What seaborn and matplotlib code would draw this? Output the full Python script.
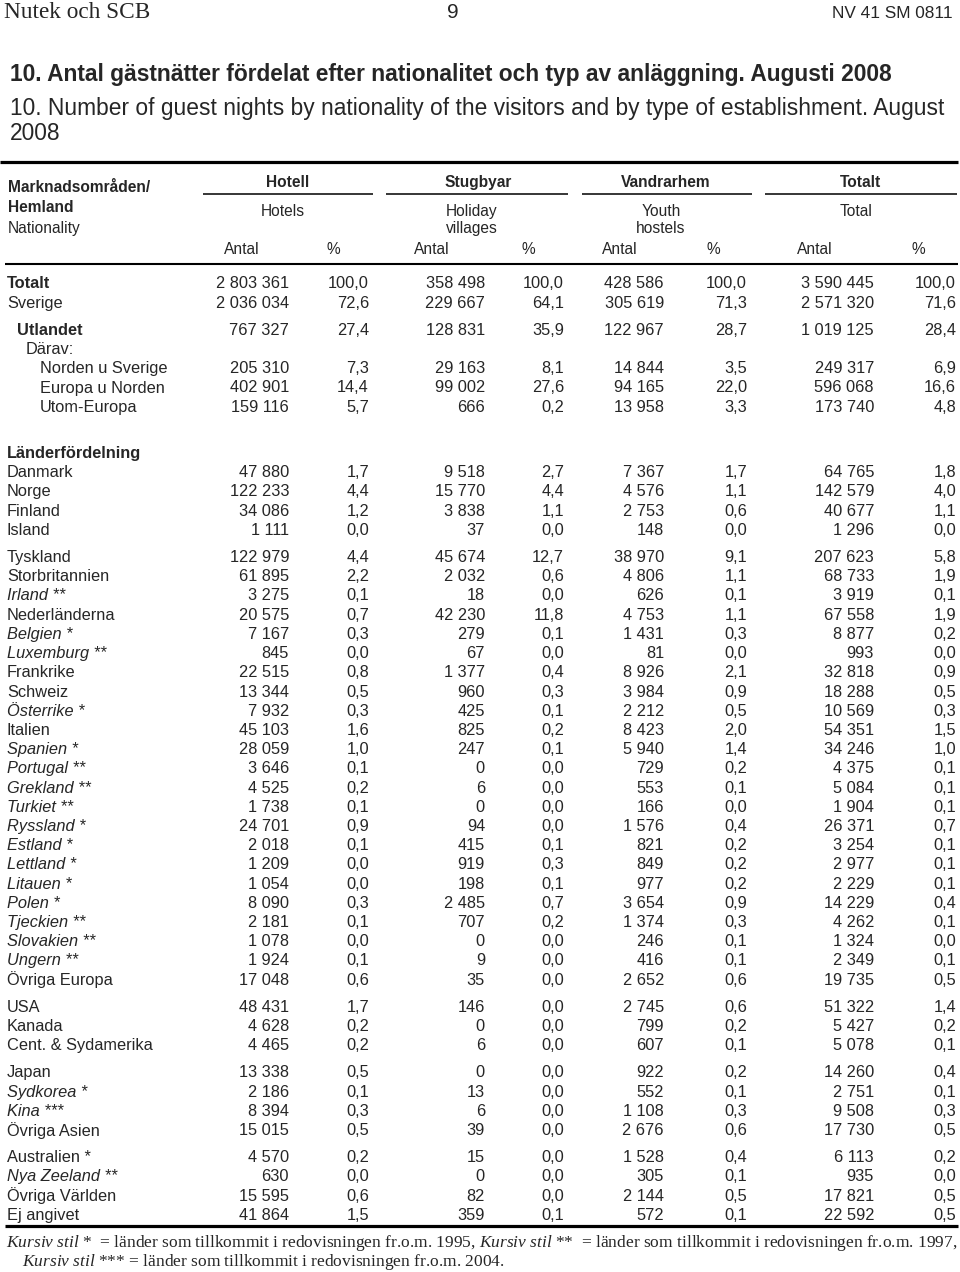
import matplotlib
matplotlib.use("Agg")
import matplotlib.pyplot as plt
from matplotlib import font_manager as fm
import seaborn as sns
import pandas as pd

# ---------------- data ----------------
labels = ["Totalt", "Sverige", "Utlandet", "Därav:", "Norden u Sverige", "Europa u Norden",
          "Utom-Europa", "Länderfördelning", "Danmark", "Norge", "Finland", "Island",
          "Tyskland", "Storbritannien", "Irland **", "Nederländerna", "Belgien *", "Luxemburg **",
          "Frankrike", "Schweiz", "Österrike *", "Italien", "Spanien *", "Portugal **",
          "Grekland **", "Turkiet **", "Ryssland *", "Estland *", "Lettland *", "Litauen *",
          "Polen *", "Tjeckien **", "Slovakien **", "Ungern **", "Övriga Europa",
          "USA", "Kanada", "Cent. & Sydamerika",
          "Japan", "Sydkorea *", "Kina ***", "Övriga Asien",
          "Australien *", "Nya Zeeland **", "Övriga Världen", "Ej angivet"]

hotell_antal = [2803361, 2036034, 767327, None, 205310, 402901, 159116, None,
                47880, 122233, 34086, 1111,
                122979, 61895, 3275, 20575, 7167, 845, 22515, 13344, 7932, 45103, 28059, 3646,
                4525, 1738, 24701, 2018, 1209, 1054, 8090, 2181, 1078, 1924, 17048,
                48431, 4628, 4465, 13338, 2186, 8394, 15015, 4570, 630, 15595, 41864]
hotell_pct = [100.0, 72.6, 27.4, None, 7.3, 14.4, 5.7, None,
              1.7, 4.4, 1.2, 0.0,
              4.4, 2.2, 0.1, 0.7, 0.3, 0.0, 0.8, 0.5, 0.3, 1.6, 1.0, 0.1,
              0.2, 0.1, 0.9, 0.1, 0.0, 0.0, 0.3, 0.1, 0.0, 0.1, 0.6,
              1.7, 0.2, 0.2, 0.5, 0.1, 0.3, 0.5, 0.2, 0.0, 0.6, 1.5]
stug_antal = [358498, 229667, 128831, None, 29163, 99002, 666, None,
              9518, 15770, 3838, 37,
              45674, 2032, 18, 42230, 279, 67, 1377, 960, 425, 825, 247, 0,
              6, 0, 94, 415, 919, 198, 2485, 707, 0, 9, 35,
              146, 0, 6, 0, 13, 6, 39, 15, 0, 82, 359]
stug_pct = [100.0, 64.1, 35.9, None, 8.1, 27.6, 0.2, None,
            2.7, 4.4, 1.1, 0.0,
            12.7, 0.6, 0.0, 11.8, 0.1, 0.0, 0.4, 0.3, 0.1, 0.2, 0.1, 0.0,
            0.0, 0.0, 0.0, 0.1, 0.3, 0.1, 0.7, 0.2, 0.0, 0.0, 0.0,
            0.0, 0.0, 0.0, 0.0, 0.0, 0.0, 0.0, 0.0, 0.0, 0.0, 0.1]
vandr_antal = [428586, 305619, 122967, None, 14844, 94165, 13958, None,
               7367, 4576, 2753, 148,
               38970, 4806, 626, 4753, 1431, 81, 8926, 3984, 2212, 8423, 5940, 729,
               553, 166, 1576, 821, 849, 977, 3654, 1374, 246, 416, 2652,
               2745, 799, 607, 922, 552, 1108, 2676, 1528, 305, 2144, 572]
vandr_pct = [100.0, 71.3, 28.7, None, 3.5, 22.0, 3.3, None,
             1.7, 1.1, 0.6, 0.0,
             9.1, 1.1, 0.1, 1.1, 0.3, 0.0, 2.1, 0.9, 0.5, 2.0, 1.4, 0.2,
             0.1, 0.0, 0.4, 0.2, 0.2, 0.2, 0.9, 0.3, 0.1, 0.1, 0.6,
             0.6, 0.2, 0.1, 0.2, 0.1, 0.3, 0.6, 0.4, 0.1, 0.5, 0.1]
tot_antal = [3590445, 2571320, 1019125, None, 249317, 596068, 173740, None,
             64765, 142579, 40677, 1296,
             207623, 68733, 3919, 67558, 8877, 993, 32818, 18288, 10569, 54351, 34246, 4375,
             5084, 1904, 26371, 3254, 2977, 2229, 14229, 4262, 1324, 2349, 19735,
             51322, 5427, 5078, 14260, 2751, 9508, 17730, 6113, 935, 17821, 22592]
tot_pct = [100.0, 71.6, 28.4, None, 6.9, 16.6, 4.8, None,
           1.8, 4.0, 1.1, 0.0,
           5.8, 1.9, 0.1, 1.9, 0.2, 0.0, 0.9, 0.5, 0.3, 1.5, 1.0, 0.1,
           0.1, 0.1, 0.7, 0.1, 0.1, 0.1, 0.4, 0.1, 0.0, 0.1, 0.5,
           1.4, 0.2, 0.1, 0.4, 0.1, 0.3, 0.5, 0.2, 0.0, 0.5, 0.5]

group_titles = ["Hotell", "Stugbyar", "Vandrarhem", "Totalt"]
group_subtitles = ["Hotels", "Holiday\nvillages", "Youth\nhostels", "Total"]
bold_rows = {"Totalt", "Utlandet", "Länderfördelning"}
italic_rows = {"Irland **", "Belgien *", "Luxemburg **", "Österrike *", "Spanien *", "Portugal **",
               "Grekland **", "Turkiet **", "Ryssland *", "Estland *", "Lettland *", "Litauen *",
               "Polen *", "Tjeckien **", "Slovakien **", "Ungern **", "Sydkorea *", "Kina ***",
               "Nya Zeeland **"}

df = pd.DataFrame({"label": labels,
                   "h_n": hotell_antal, "h_p": hotell_pct,
                   "s_n": stug_antal, "s_p": stug_pct,
                   "v_n": vandr_antal, "v_p": vandr_pct,
                   "t_n": tot_antal, "t_p": tot_pct})

# ---------------- style ----------------
sns.set_theme(style="white")
names = {f.name for f in fm.fontManager.ttflist}
NARROW = "Liberation Sans Narrow" if "Liberation Sans Narrow" in names else "Liberation Sans"
plt.rcParams["font.family"] = ["Liberation Sans", "DejaVu Sans"]
plt.rcParams["mathtext.fontset"] = "custom"
plt.rcParams["mathtext.rm"] = "Liberation Serif"
plt.rcParams["mathtext.it"] = "Liberation Serif:italic"

fig = plt.figure(figsize=(9.6, 12.72), dpi=100)
ax = fig.add_axes([0, 0, 1, 1])
ax.set_xlim(0, 960)
ax.set_ylim(1272, 0)
ax.axis("off")
renderer = fig.canvas.get_renderer()


def fit(t, target):
    w = t.get_window_extent(renderer).width
    t.set_fontsize(t.get_fontsize() * target / w)
    return t.get_fontsize()


# ---------------- page header & titles ----------------
t = ax.text(4, 12, "Nutek och SCB", family=["Liberation Serif"], fontsize=16, va="center", ha="left")
fit(t, 146)
ax.text(453, 12, "9", family=[NARROW], fontsize=15, va="center", ha="center")
t = ax.text(953, 13, "NV 41 SM 0811", family=[NARROW], fontsize=12, va="center", ha="right")
fit(t, 120)

t = ax.text(10, 75, "10. Antal gästnätter fördelat efter nationalitet och typ av anläggning. Augusti 2008",
            family=[NARROW], fontweight="bold", fontsize=14, va="center", ha="left")
fit(t, 886)
t2 = ax.text(10, 108, "10. Number of guest nights by nationality of the visitors and by type of establishment. August",
             family=[NARROW], fontsize=14, va="center", ha="left")
fs2 = fit(t2, 938)
ax.text(10, 133, "2008", family=[NARROW], fontsize=fs2, va="center", ha="left")

# ---------------- table header ----------------
HFS = 11.2
ax.hlines(162, 0, 958, color="black", lw=2.3)
ax.text(8, 187, "Marknadsområden/", fontsize=HFS, fontweight="bold", va="center")
ax.text(8, 208, "Hemland", fontsize=HFS, fontweight="bold", va="center")
ax.text(8, 228, "Nationality", fontsize=HFS, va="center")

group_centers = [288, 478, 666, 861]
underline_spans = [(203, 373), (386, 568), (582, 752), (765, 957)]
sub_centers = [283, 472, 661, 856]
antal_centers = [242, 432, 620, 815]
pct_centers = [333, 528, 713, 918]
for g, sub, gc, (x0, x1), sc, ac, pc in zip(group_titles, group_subtitles, group_centers,
                                            underline_spans, sub_centers, antal_centers, pct_centers):
    ax.text(gc, 181, g, fontsize=HFS, fontweight="bold", ha="center", va="center_baseline")
    ax.hlines(194, x0, x1, color="black", lw=1.1)
    ax.text(sc, 204, sub, fontsize=HFS, ha="center", va="top", linespacing=1.15)
    ax.text(ac, 249, "Antal", fontsize=HFS, ha="center", va="center")
    ax.text(pc, 249, "%", fontsize=HFS, ha="center", va="center")
ax.hlines(264, 5, 958, color="black", lw=1.5)

# ---------------- table body ----------------
FS = 11.8
col_keys = ["h_n", "h_p", "s_n", "s_p", "v_n", "v_p", "t_n", "t_p"]
col_right = [289, 369, 485, 564, 664, 747, 874, 956]
gaps = {2: 8, 7: 19.2 + 8, 12: 8, 35: 8, 38: 8, 42: 8}
indent = {"Utlandet": 17, "Därav:": 26, "Norden u Sverige": 40, "Europa u Norden": 40, "Utom-Europa": 40}


def fmt_n(v):
    return f"{int(v):,}".replace(",", " ")


def fmt_p(v):
    return f"{v:.1f}".replace(".", ",")


y = 284.0
for i, row in df.iterrows():
    if i > 0:
        y += 19.2 + gaps.get(i, 0)
    lab = row["label"]
    ax.text(indent.get(lab, 7), y, lab, fontsize=FS, va="center", ha="left",
            fontweight="bold" if lab in bold_rows else "normal",
            fontstyle="italic" if lab in italic_rows else "normal")
    for key, xr in zip(col_keys, col_right):
        v = row[key]
        if v is None or pd.isna(v):
            continue
        s = fmt_n(v) if key.endswith("_n") else fmt_p(v)
        ax.text(xr, y, s, fontsize=FS, va="center", ha="right")

ax.hlines(1226, 5, 958, color="black", lw=2.3)

# ---------------- footnote ----------------
f1 = ax.text(6, 1243,
             r"$\mathit{Kursiv\ stil}$ *  = länder som tillkommit i redovisningen fr.o.m. 1995, "
             r"$\mathit{Kursiv\ stil}$ **  = länder som tillkommit i redovisningen fr.o.m. 1997,",
             family=["Liberation Serif"], fontsize=11, va="center", ha="left")
ffs = fit(f1, 949)
ax.text(22, 1262, r"$\mathit{Kursiv\ stil}$ *** = länder som tillkommit i redovisningen fr.o.m. 2004.",
        family=["Liberation Serif"], fontsize=ffs, va="center", ha="left")

fig.savefig("out.png", dpi=100)
